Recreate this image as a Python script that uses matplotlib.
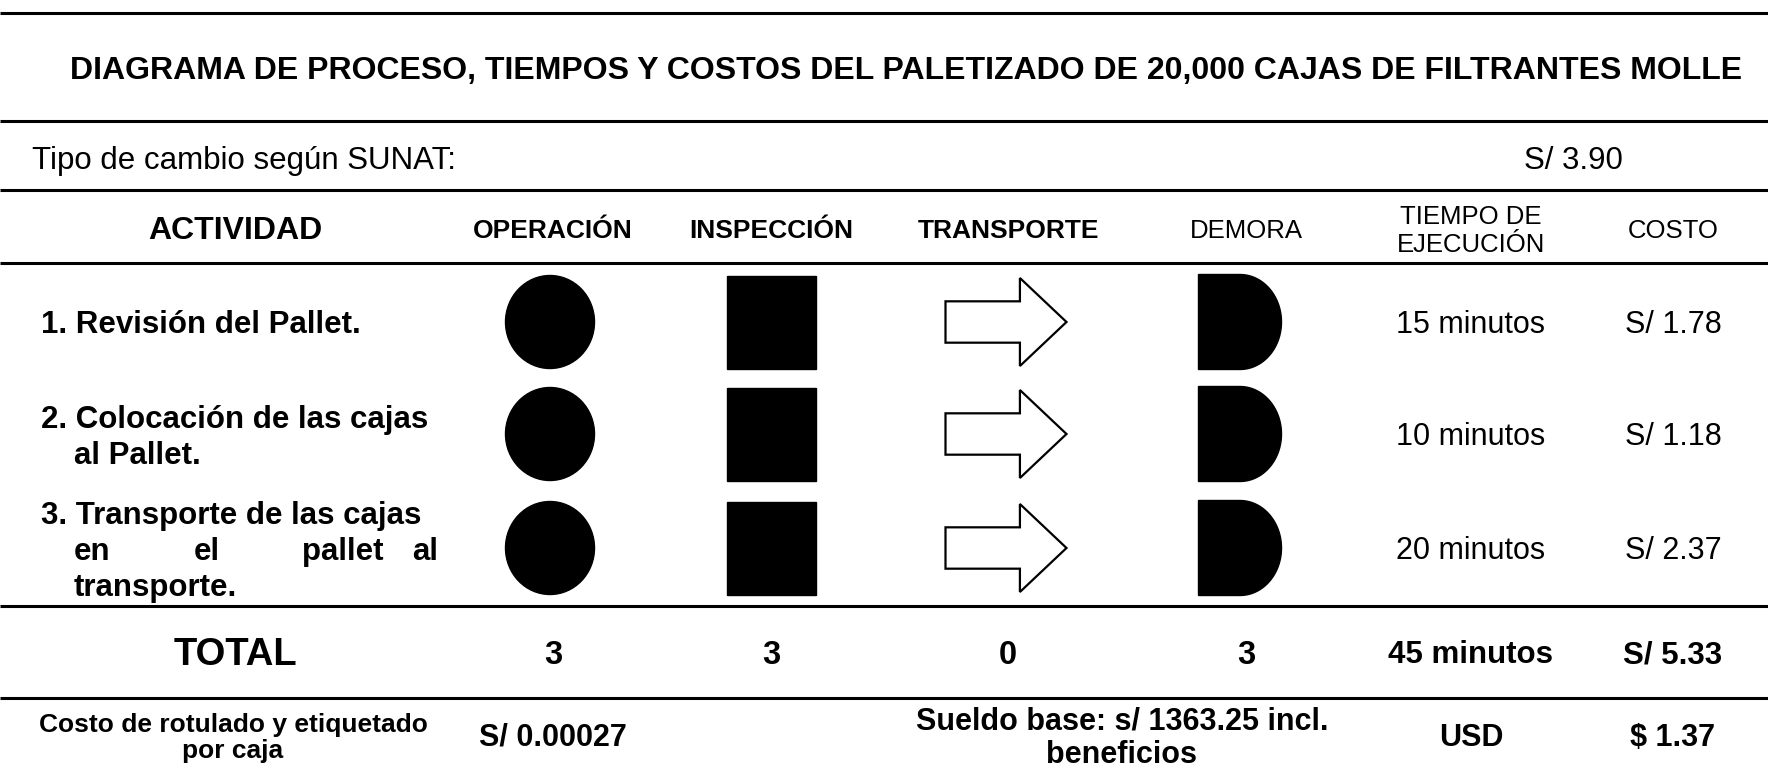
import matplotlib
matplotlib.use("Agg")
from matplotlib import pyplot as plt
from matplotlib.patches import Ellipse, Rectangle, Polygon
import numpy as np

plt.rcParams['font.family'] = ['Liberation Sans', 'DejaVu Sans']

# ---- table data ----
title = 'DIAGRAMA DE PROCESO, TIEMPOS Y COSTOS DEL PALETIZADO DE 20,000 CAJAS DE FILTRANTES MOLLE'
exchange_label = 'Tipo de cambio según SUNAT:'
exchange_rate = 'S/ 3.90'
headers = ['ACTIVIDAD', 'OPERACIÓN', 'INSPECCIÓN', 'TRANSPORTE', 'DEMORA', 'TIEMPO DE\nEJECUCIÓN', 'COSTO']
activities = ['1. Revisión del Pallet.',
              '2. Colocación de las cajas al Pallet.',
              '3. Transporte de las cajas en el pallet al transporte.']
times = ['15 minutos', '10 minutos', '20 minutos']
costs = ['S/ 1.78', 'S/ 1.18', 'S/ 2.37']
totals = ['TOTAL', '3', '3', '0', '3', '45 minutos', 'S/ 5.33']
footer = ['Costo de rotulado y etiquetado\npor caja', 'S/ 0.00027',
          'Sueldo base: s/ 1363.25 incl.\nbeneficios', 'USD', '$ 1.37']

W, H = 1768, 769
fig = plt.figure(figsize=(W / 100, H / 100), dpi=100)
ax = fig.add_axes([0, 0, 1, 1])
ax.set_xlim(0, W)
ax.set_ylim(H, 0)
ax.axis('off')

dy = 3  # small downward nudge so text sits like the original

# horizontal rules
for y in [13, 121, 190, 263, 606, 698]:
    ax.plot([0, W], [y, y], color='black', lw=2.2, solid_capstyle='butt')

ax.text(906, 68 + dy, title, ha='center', va='center', fontsize=23, fontweight='bold')
ax.text(32, 158 + dy, exchange_label, ha='left', va='center', fontsize=22.5)
ax.text(1573, 158 + dy, exchange_rate, ha='center', va='center', fontsize=22.5)

col_x = [235, 553, 771, 1008, 1246, 1471, 1673]
head_size = [23, 19, 19, 19, 18.5, 18.5, 18.5]
head_weight = ['bold', 'bold', 'bold', 'bold', 'normal', 'normal', 'normal']
for x, h, s, w in zip(col_x, headers, head_size, head_weight):
    ax.text(x, 228 + dy, h, ha='center', va='center', fontsize=s, fontweight=w, linespacing=1.2)

row_y = [322, 434, 548]
lab = dict(fontsize=22.5, fontweight='bold', va='center')
# row labels with hanging indent (third one justified in the middle line)
ax.text(41, row_y[0] + dy, activities[0], ha='left', **lab)
ax.text(41, 417 + dy, '2. Colocación de las cajas', ha='left', **lab)
ax.text(74, 453 + dy, 'al Pallet.', ha='left', **lab)
ax.text(41, 513 + dy, '3. Transporte de las cajas', ha='left', **lab)
for word, x, ha in zip(['en', 'el', 'pallet', 'al'], [74, 194, 302, 438],
                       ['left', 'left', 'left', 'right']):
    ax.text(x, 549 + dy, word, ha=ha, **lab)
ax.text(74, 585 + dy, 'transporte.', ha='left', **lab)


def circle(cx, cy):
    ax.add_patch(Ellipse((cx, cy), 89, 93, facecolor='black', edgecolor='black'))


def square(cx, cy):
    ax.add_patch(Rectangle((cx - 44.5, cy - 46.5), 89, 93, facecolor='black', edgecolor='black'))


def arrow(cx, cy):
    w, h = 121, 88
    x0, y0 = cx - w / 2, cy - h / 2
    sh = 0.235 * h
    hb = x0 + 0.615 * w
    pts = [(x0, cy - sh), (hb, cy - sh), (hb, y0), (x0 + w, cy), (hb, y0 + h),
           (hb, cy + sh), (x0, cy + sh)]
    ax.add_patch(Polygon(pts, closed=True, facecolor='white', edgecolor='black', lw=1.6))


def demora(cx, cy):
    w, h = 83, 95
    x0, y0 = cx - w / 2, cy - h / 2
    xs = x0 + 0.5 * w
    t = np.linspace(-np.pi / 2, np.pi / 2, 60)
    arc = [(xs + 0.5 * w * np.cos(a), cy + h / 2 * np.sin(a)) for a in t]
    pts = [(x0, y0)] + arc + [(x0, y0 + h)]
    ax.add_patch(Polygon(pts, closed=True, facecolor='black', edgecolor='black'))


for y in row_y:
    circle(col_x[1] - 3, y)
    square(col_x[2], y)
    arrow(1006, y)
    demora(1240, y)

for y, t, c in zip(row_y, times, costs):
    ax.text(col_x[5], y + dy, t, ha='center', va='center', fontsize=22)
    ax.text(col_x[6], y + dy, c, ha='center', va='center', fontsize=22)

tot_size = [27.5, 23.5, 23.5, 23.5, 23.5, 22.5, 22.5]
for x, t, s in zip(col_x, totals, tot_size):
    ax.text(x, 652 + dy, t, ha='center', va='center', fontsize=s, fontweight='bold')

foot_x = [233, 553, 1122, 1471, 1673]
foot_size = [19, 22, 22, 22, 22]
for x, t, s in zip(foot_x, footer, foot_size):
    ax.text(x, 735 + dy, t, ha='center', va='center', fontsize=s, fontweight='bold', linespacing=1.15)

fig.savefig('out.png', dpi=100)
